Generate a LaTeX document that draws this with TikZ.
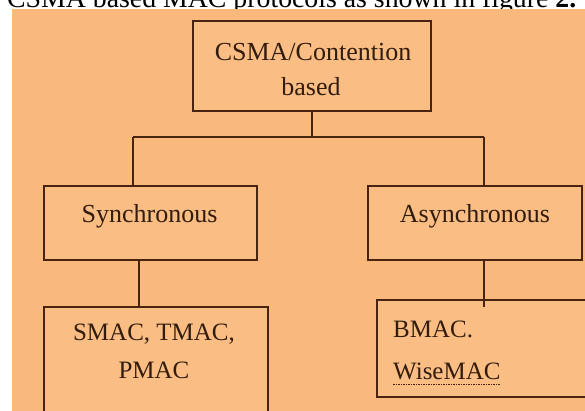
\documentclass[tikz,border=0pt]{standalone}
\usepackage{fontspec}
\setmainfont{Liberation Serif}
\definecolor{bgorange}{RGB}{249,185,124}
\definecolor{boxfill}{RGB}{250,189,131}
\definecolor{lineclr}{RGB}{72,36,16}
\definecolor{txtclr}{RGB}{50,28,14}
\begin{document}
\begin{tikzpicture}[x=1pt,y=1pt,
  box/.style={draw=lineclr, line width=1.3pt, fill=boxfill, rectangle, inner sep=0pt},
  lbl/.style={text=txtclr, inner sep=0pt, font=\fontsize{26}{30}\selectfont},
  lblsmall/.style={text=txtclr, inner sep=0pt, font=\fontsize{25}{30}\selectfont},
  conn/.style={draw=lineclr, line width=1.3pt}]
\useasboundingbox (0,0) rectangle (585,-410);
% caption line of the page, cut off at the top
\node (caption) [anchor=base west, inner sep=0pt, font=\fontsize{27.8}{30}\selectfont] at (7,-7.5) {CSMA based MAC protocols as shown in figure \textbf{2.}};
% orange background
\fill[bgorange] (12,-8.5) rectangle (590,-415);
% boxes
\node (top)   [box, minimum width=238pt, minimum height=90pt] at (312,-66) {};
\node (sync)  [box, minimum width=213pt, minimum height=74pt] at (150.5,-223) {};
\node (async) [box, minimum width=214pt, minimum height=74pt] at (475,-223) {};
\node (smac)  [box, minimum width=224pt, minimum height=123pt] at (156,-368.5) {};
\node (bmac)  [box, minimum width=223pt, minimum height=97pt] at (488.5,-348.5) {};
% texts
\node (topA) [lbl, anchor=base] at (313,-60) {CSMA/Contention};
\node (topB) [lbl, anchor=base] at (311,-95) {based};
\node (syncT) [lbl, anchor=base] at (149.5,-222) {Synchronous};
\node (asyncT) [lbl, anchor=base] at (475,-222) {Asynchronous};
\node (smacA) [lblsmall, anchor=base] at (154,-340) {SMAC, TMAC,};
\node (smacB) [lblsmall, anchor=base] at (154,-378) {PMAC};
\node (bmacA) [lblsmall, anchor=base west] at (393,-337) {BMAC.};
\node (bmacB) [lblsmall, anchor=base west] at (393,-379) {WiseMAC};
\draw[lineclr, line width=1pt, dash pattern=on 1.5pt off 1pt] (bmacB.base west) ++(0,-5) -- ++(107,0);
% connectors
\coordinate (jc) at (312,-137);
\coordinate (jl) at (133,-137);
\coordinate (jr) at (484,-137);
\draw[conn] (top.south) -- (jc);
\draw[conn] (jl) -- (jr);
\draw[conn] (jl) -- (jl |- sync.north);
\draw[conn] (jr) -- (jr |- async.north);
\draw[conn] ([xshift=-11.5pt]sync.south) -- ([xshift=-17pt]smac.north);
\draw[conn] ([xshift=9pt]async.south) -- ([xshift=-4.5pt,yshift=-8pt]bmac.north);
\end{tikzpicture}
\end{document}
